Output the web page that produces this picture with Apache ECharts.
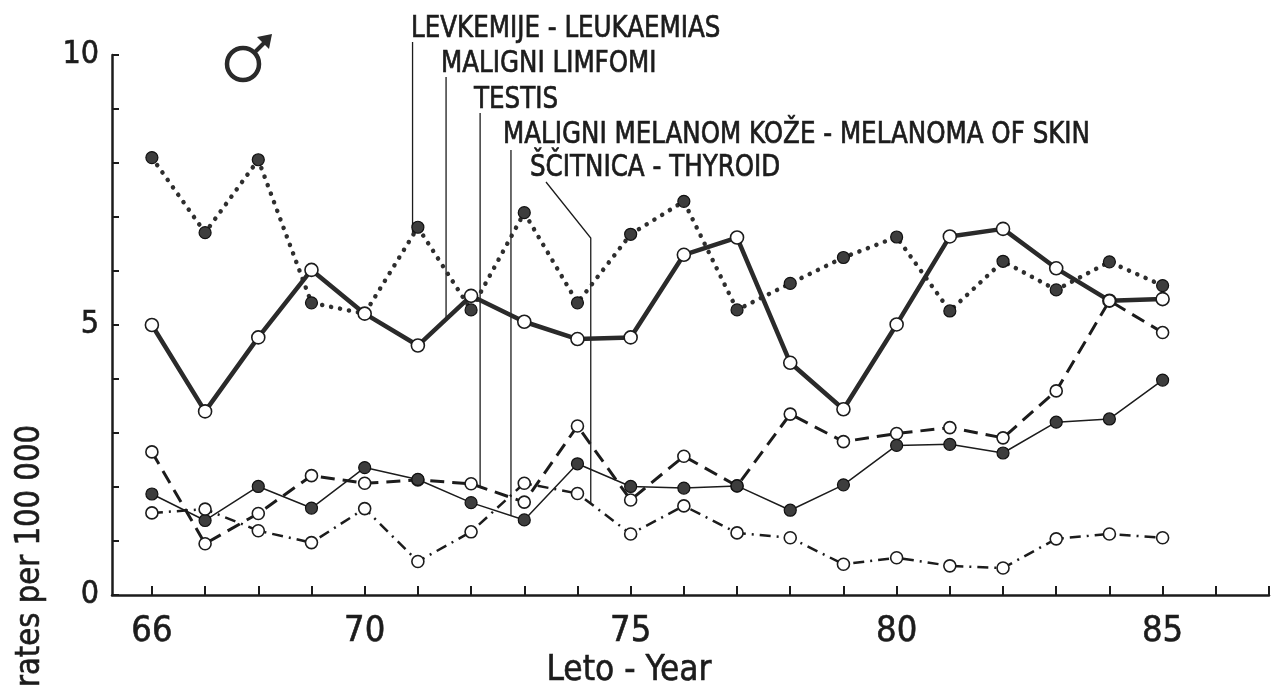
<!DOCTYPE html>
<html>
<head>
<meta charset="utf-8">
<script src="https://cdn.jsdelivr.net/npm/echarts@6/dist/echarts.min.js"></script>
<style>
html,body{margin:0;padding:0;background:#fff;}
#chart{width:1279px;height:698px;}
</style>
</head>
<body>
<div id="chart"></div>
<script>
// ---- data (rates per 100 000, males) ----
const years = [66,67,68,69,70,71,72,73,74,75,76,77,78,79,80,81,82,83,84,85];
const leukaemias = [8.10,6.71,8.06,5.41,5.21,6.81,5.28,7.08,5.41,6.68,7.29,5.28,5.77,6.25,6.63,5.26,6.18,5.65,6.17,5.73];
const lymphomas  = [5.00,3.40,4.77,6.02,5.21,4.62,5.54,5.06,4.74,4.77,6.30,6.62,4.30,3.44,5.01,6.64,6.78,6.05,5.45,5.48];
const testis     = [2.65,0.95,1.51,2.21,2.07,2.13,2.06,1.72,3.13,1.76,2.57,2.02,3.35,2.84,2.99,3.10,2.91,3.78,5.45,4.86];
const melanoma   = [1.87,1.38,2.01,1.61,2.36,2.14,1.71,1.39,2.43,2.01,1.98,2.02,1.57,2.04,2.77,2.79,2.63,3.20,3.26,3.98];
const thyroid    = [1.52,1.59,1.19,0.97,1.60,0.62,1.17,2.07,1.88,1.13,1.65,1.15,1.06,0.57,0.69,0.54,0.50,1.04,1.13,1.06];

const xTickValues = [66,67,68,69,70,71,72,73,74,75,76,77,78,79,80,81,82,83,84,85,86,87];
const xLabelValues = [66,70,75,80,85];
const yLabelValues = [0,5,10];

const seriesNames = [
  "LEVKEMIJE - LEUKAEMIAS",
  "MALIGNI LIMFOMI",
  "TESTIS",
  "MALIGNI MELANOM KOŽE - MELANOMA OF SKIN",
  "ŠČITNICA - THYROID"
];
const xTitle = "Leto - Year";
const yTitle = "rates per 100 000";

// ---- styling ----
const INK = '#1c1c1c';
const FONT = "'DejaVu Sans Condensed','DejaVu Sans',sans-serif";

function pairs(arr){ return years.map((y,i)=>[y, arr[i]]); }

const openMarker = {color:'#fff', borderColor:INK, borderWidth:1.6};
const filledMarker = {color:'#3d3d3d', borderColor:'#111', borderWidth:1.2};

const chart = echarts.init(document.getElementById('chart'), null, {renderer:'canvas'});

const option = {
  backgroundColor:'#fff',
  animation:false,
  grid:{left:112, right:10, top:55, bottom:103, containLabel:false},
  xAxis:{
    type:'value', min:65.25, max:87,
    axisLine:{show:true, onZero:false, lineStyle:{color:INK, width:2.5}},
    axisTick:{show:true, inside:true, length:9, customValues:xTickValues, lineStyle:{color:INK, width:2}},
    axisLabel:{show:true, customValues:xLabelValues, margin:19, color:INK, fontSize:36, fontFamily:FONT,
      textBorderColor:INK, textBorderWidth:0.6},
    splitLine:{show:false}
  },
  yAxis:{
    type:'value', min:0, max:10, interval:1,
    axisLine:{show:true, lineStyle:{color:INK, width:2.5}},
    axisTick:{show:true, inside:true, length:7, lineStyle:{color:INK, width:2}},
    axisLabel:{show:true, customValues:yLabelValues, margin:13, color:INK, fontSize:32, fontFamily:FONT,
      textBorderColor:INK, textBorderWidth:0.6},
    splitLine:{show:false}
  },
  series:[
    {name:seriesNames[0], type:'line', data:pairs(leukaemias), symbol:'circle', symbolSize:12,
      itemStyle:filledMarker, lineStyle:{color:'#2e2e2e', width:4.5, type:[0.1,9], cap:'round'}, z:3},
    {name:seriesNames[1], type:'line', data:pairs(lymphomas), symbol:'circle', symbolSize:13,
      itemStyle:openMarker, lineStyle:{color:'#2a2a2a', width:4.5}, z:4},
    {name:seriesNames[2], type:'line', data:pairs(testis), symbol:'circle', symbolSize:12,
      itemStyle:openMarker, lineStyle:{color:INK, width:3, type:[14,8]}, z:5},
    {name:seriesNames[3], type:'line', data:pairs(melanoma), symbol:'circle', symbolSize:12,
      itemStyle:filledMarker, lineStyle:{color:INK, width:1.5}, z:5},
    {name:seriesNames[4], type:'line', data:pairs(thyroid), symbol:'circle', symbolSize:12,
      itemStyle:openMarker, lineStyle:{color:INK, width:2.5, type:[11,6,2,6]}, z:5}
  ]
};
chart.setOption(option);

// ---- annotation layout (pixel positions) ----
const measureCtx = document.createElement('canvas').getContext('2d');
function textWidth(text, size, family){
  measureCtx.font = size + 'px ' + family;
  return measureCtx.measureText(text).width;
}
const ANN_SIZE = 31;
// one common horizontal scale for all labels, fitted on the longest line
const annScale = 587 / textWidth(seriesNames[3], ANN_SIZE, FONT);
const annLayout = [
  {x:411, y:29},
  {x:441, y:64},
  {x:474, y:100},
  {x:503, y:135},
  {x:530, y:168}
];
const seriesArrays = [leukaemias, lymphomas, testis, melanoma, thyroid];
const leaderLayout = [
  {topY:42, atYear:70.9},
  {topY:77, atYear:71.53},
  {topY:113, atYear:72.17},
  {topY:150, atYear:72.75},
  {topY:238, atYear:74.25, diagFrom:[546,182]}
];
function interp(arr, xv){
  const i = Math.min(Math.floor(xv - years[0]), arr.length - 2);
  const f = xv - years[i];
  return arr[i] + (arr[i+1] - arr[i]) * f;
}

const graphics = [];
seriesNames.forEach((t, i) => {
  const L = annLayout[i];
  graphics.push({
    type:'text', x:L.x, y:L.y, scaleX:annScale, scaleY:1,
    style:{text:t, fontSize:ANN_SIZE, fontFamily:FONT, fill:INK, stroke:INK, lineWidth:0.7,
      textAlign:'left', textVerticalAlign:'middle'}
  });
  const ld = leaderLayout[i];
  const p = chart.convertToPixel({gridIndex:0}, [ld.atYear, interp(seriesArrays[i], ld.atYear)]);
  if (ld.diagFrom) {
    graphics.push({type:'polyline', shape:{points:[ld.diagFrom, [p[0], ld.topY], p]},
      style:{stroke:INK, lineWidth:1.3, fill:null}});
  } else {
    graphics.push({type:'line', shape:{x1:p[0], y1:ld.topY, x2:p[0], y2:p[1]},
      style:{stroke:INK, lineWidth:1.3}});
  }
});

// axis titles
graphics.push({
  type:'text', x:629, y:671, scaleX:165 / textWidth(xTitle, 36, FONT),
  style:{text:xTitle, fontSize:36, fontFamily:FONT, fill:INK, stroke:INK, lineWidth:0.6,
    textAlign:'center', textVerticalAlign:'middle'}
});
graphics.push({
  type:'text', x:30, y:556, rotation:Math.PI/2, scaleX:262 / textWidth(yTitle, 34, FONT),
  style:{text:yTitle, fontSize:34, fontFamily:FONT, fill:INK, stroke:INK, lineWidth:0.6,
    textAlign:'center', textVerticalAlign:'middle'}
});

// male symbol
graphics.push({type:'circle', shape:{cx:243, cy:64, r:16}, style:{stroke:'#2a2a2a', lineWidth:4.5, fill:null}});
graphics.push({type:'line', shape:{x1:254, y1:53, x2:266, y2:41}, style:{stroke:'#2a2a2a', lineWidth:4}});
graphics.push({type:'polygon', shape:{points:[[272,34],[257,37],[269,49]]}, style:{fill:'#2a2a2a'}});

chart.setOption({graphic:graphics});
</script>
</body>
</html>
